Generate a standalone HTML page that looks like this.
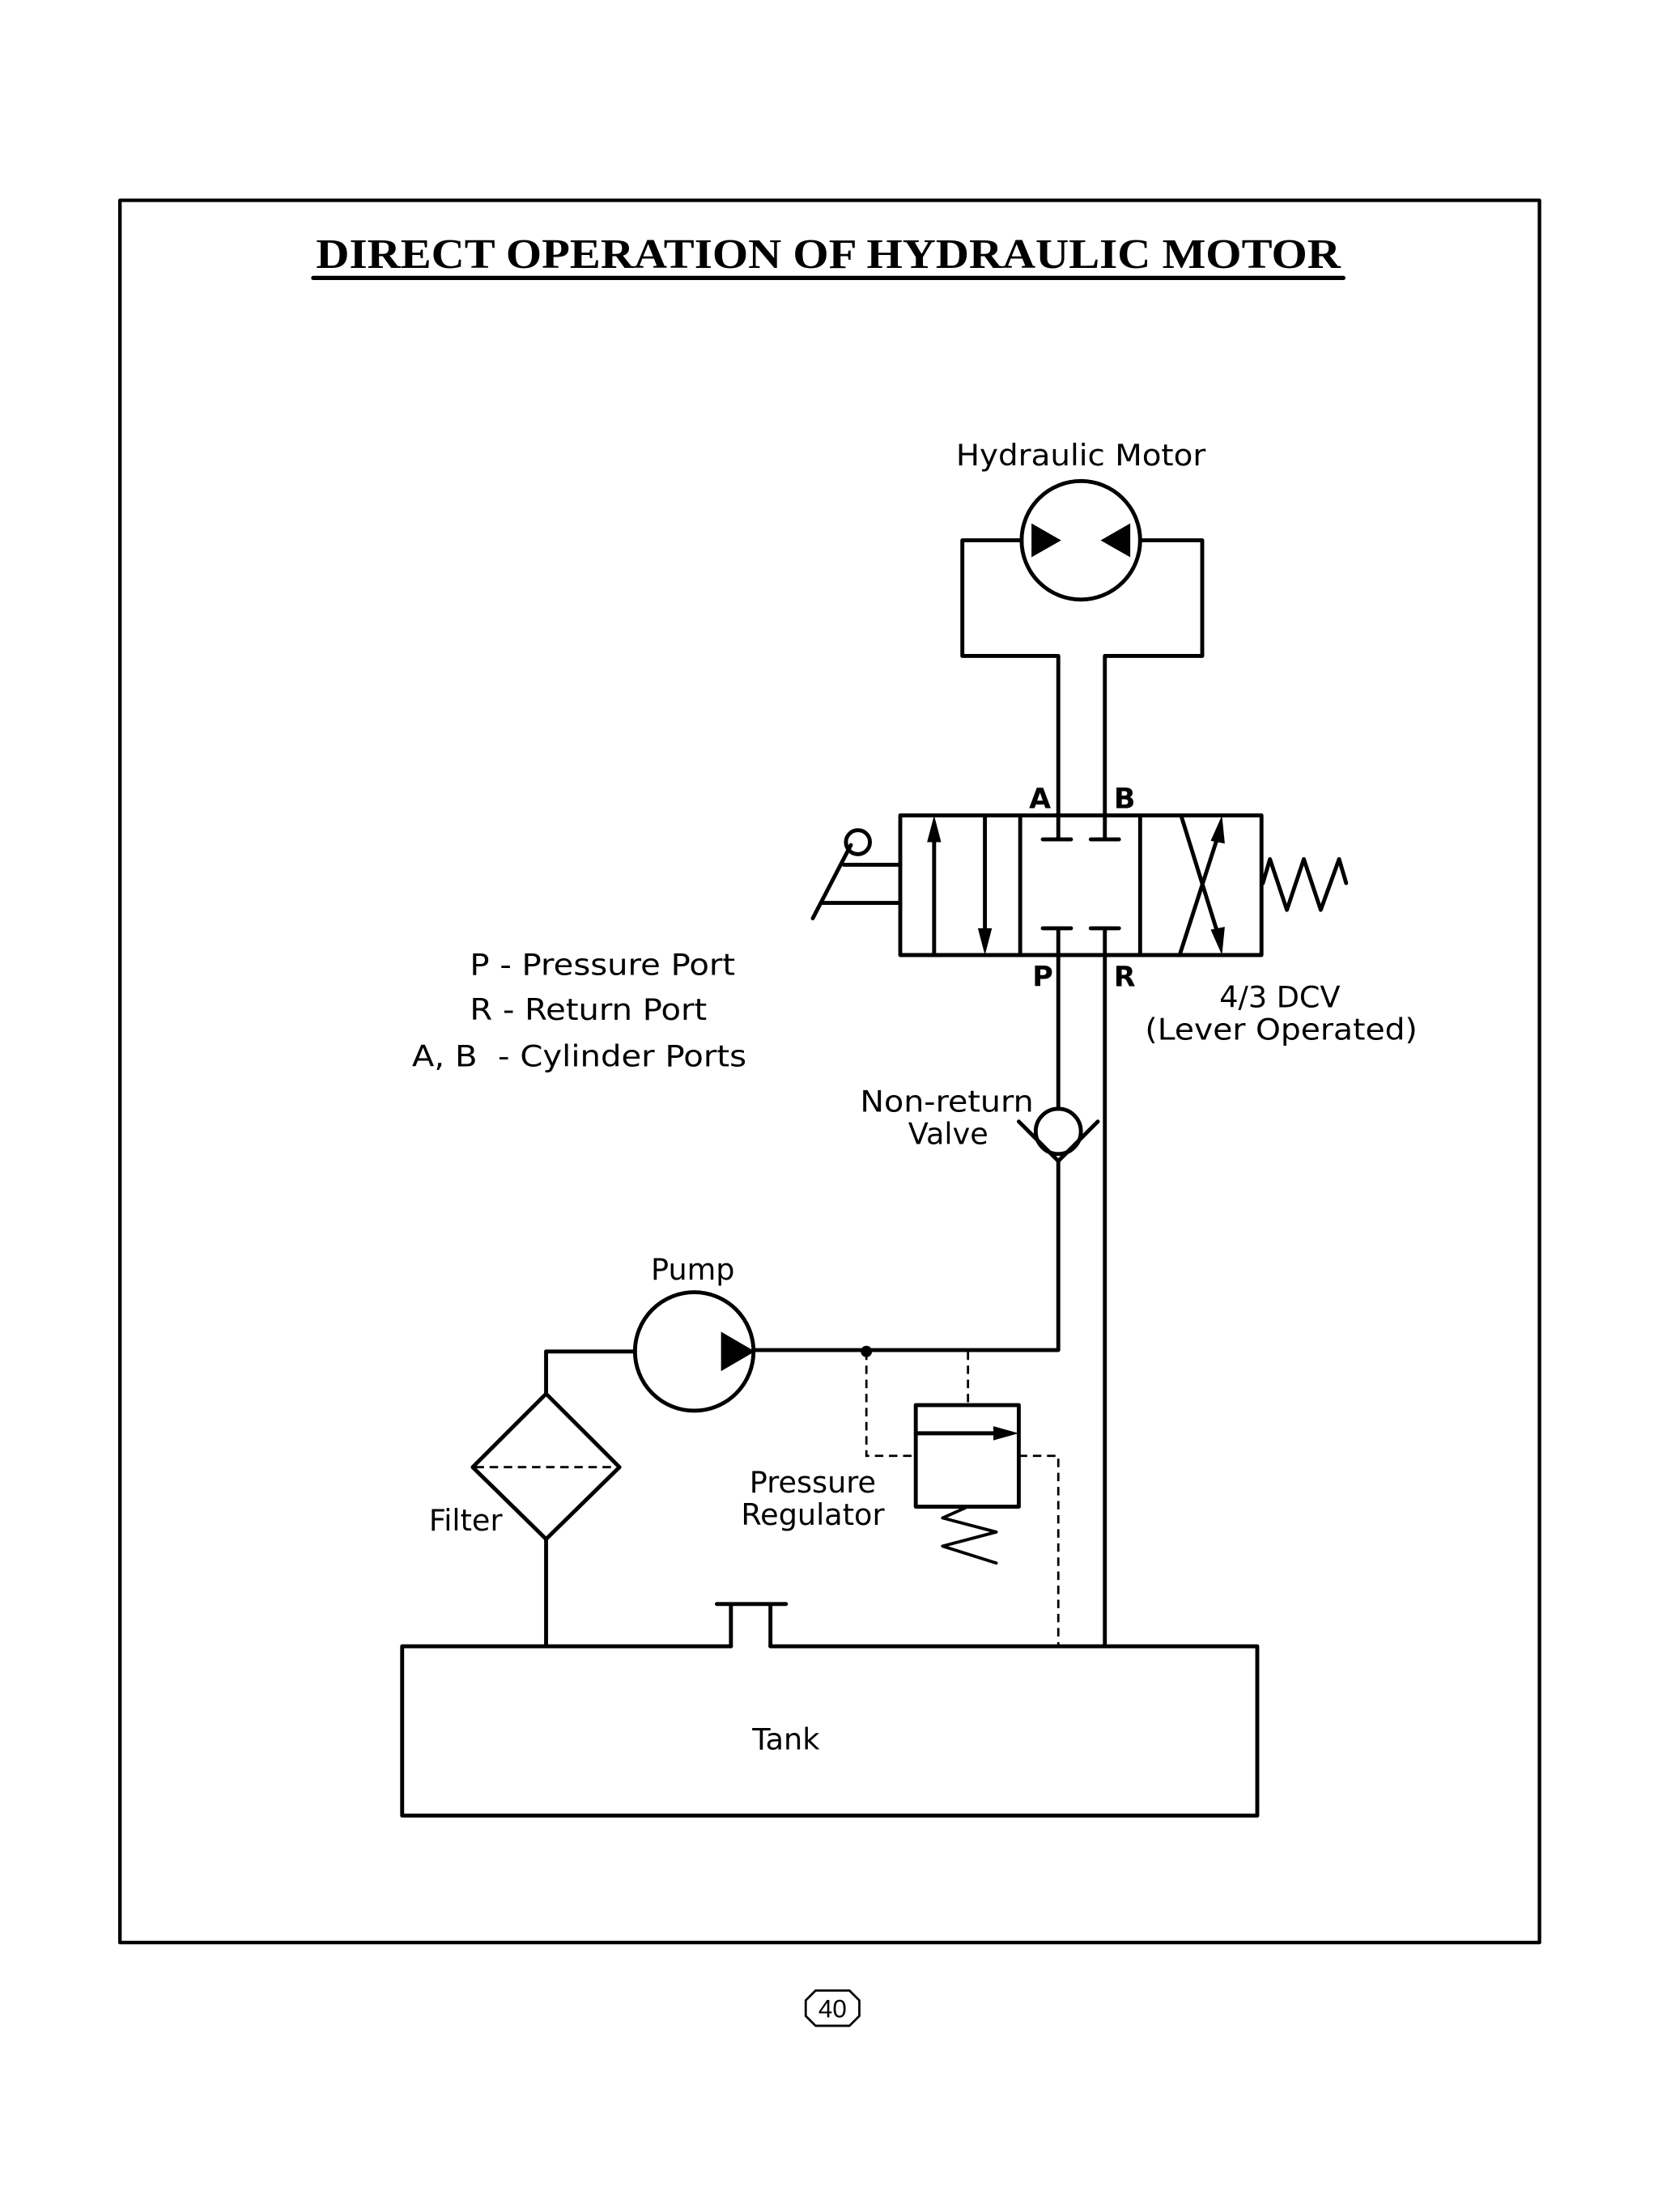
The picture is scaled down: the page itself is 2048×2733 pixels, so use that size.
<!DOCTYPE html>
<html><head><meta charset="utf-8"><style>
html,body{margin:0;padding:0;background:#fff;}
svg{display:block;}
text{font-family:"DejaVu Sans","Liberation Sans",sans-serif;fill:#000;}
</style></head><body>
<svg width="2048" height="2733" viewBox="0 0 1175 1568" preserveAspectRatio="none" xmlns="http://www.w3.org/2000/svg">
<g fill="none" stroke="#000" stroke-width="2.8" stroke-linecap="round" stroke-linejoin="round">
<rect x="85" y="142" width="1006" height="1235" stroke-width="2.5"/>
<line x1="222" y1="197" x2="952" y2="197" stroke-width="3"/>
<!-- motor -->
<circle cx="766" cy="383" r="42"/>
<polyline points="750,577 750,465 682,465 682,383 724,383"/>
<polyline points="783,577 783,465 852,465 852,383 808,383"/>
<!-- valve -->
<rect x="638" y="578" width="256" height="99"/>
<line x1="723" y1="578" x2="723" y2="677"/>
<line x1="808" y1="578" x2="808" y2="677"/>
<line x1="750" y1="578" x2="750" y2="595"/><line x1="739" y1="595" x2="759" y2="595"/>
<line x1="783" y1="578" x2="783" y2="595"/><line x1="773" y1="595" x2="793" y2="595"/>
<line x1="750" y1="677" x2="750" y2="658"/><line x1="739" y1="658" x2="759" y2="658"/>
<line x1="783" y1="677" x2="783" y2="658"/><line x1="773" y1="658" x2="793" y2="658"/>
<line x1="662" y1="677" x2="662" y2="590"/>
<line x1="698" y1="578" x2="698" y2="665"/>
<line x1="836" y1="677" x2="864" y2="590"/>
<line x1="837" y1="578" x2="864" y2="665"/>
<polyline points="895,626 900,609 912,645 924,609 936,645 949,609 954,626"/>
<line x1="598" y1="613" x2="638" y2="613"/>
<line x1="583" y1="640" x2="638" y2="640"/>
<line x1="576" y1="651" x2="603" y2="599"/>
<circle cx="608" cy="597" r="8.5"/>
<!-- pressure line -->
<line x1="750" y1="677" x2="750" y2="786"/>
<circle cx="750" cy="802" r="16"/>
<polyline points="722,795 750,823 778,795"/>
<polyline points="750,823 750,957 534,957"/>
<line x1="783" y1="677" x2="783" y2="1167"/>
<!-- pump -->
<circle cx="492" cy="958" r="42"/>
<polyline points="450,958 387,958 387,988"/>
<polygon points="387,988 439,1040 387,1091 335,1040"/>
<line x1="387" y1="1091" x2="387" y2="1167"/>
<!-- regulator -->
<rect x="649" y="996" width="73" height="72"/>
<line x1="649" y1="1016" x2="712" y2="1016"/>
<polyline points="686,1068 668,1076 706,1086 668,1096 706,1108" stroke-width="2.2"/>
<!-- tank -->
<polyline points="518,1167 285,1167 285,1287 891,1287 891,1167 546,1167"/>
<polyline points="518,1167 518,1137 508,1137 557,1137 546,1137 546,1167"/>
<!-- page num -->
<polygon points="578,1411 602,1411 609,1418 609,1429 602,1436 578,1436 571,1429 571,1418" stroke-width="1.6"/>
</g>
<g fill="none" stroke="#000" stroke-width="1.6" stroke-dasharray="6,4">
<line x1="337" y1="1040" x2="437" y2="1040"/>
<polyline points="614,958 614,1032 649,1032"/>
<line x1="686" y1="958" x2="686" y2="996"/>
<polyline points="722,1032 750,1032 750,1167"/>
</g>
<g fill="#000" stroke="none">
<polygon points="731,371 731,395 752,383"/>
<polygon points="801,371 801,395 780,383"/>
<polygon points="662,578 657,597 667,597"/>
<polygon points="698,677 693,658 703,658"/>
<polygon points="866,578 858,596 868,598"/>
<polygon points="866,677 858,659 868,657"/>
<polygon points="511,944 511,972 535,958"/>
<polygon points="722,1016 704,1011 704,1021"/>
<circle cx="614" cy="958" r="4"/>
</g>
<text x="587" y="190" text-anchor="middle" font-weight="bold" font-size="30" textLength="726" lengthAdjust="spacingAndGlyphs" style="font-family:'Liberation Serif',serif">DIRECT OPERATION OF HYDRAULIC MOTOR</text>
<g font-size="21">
<text x="766" y="330" text-anchor="middle" textLength="177" lengthAdjust="spacingAndGlyphs">Hydraulic Motor</text>
<text x="737" y="573" text-anchor="middle" font-weight="bold" font-size="20">A</text>
<text x="797" y="573" text-anchor="middle" font-weight="bold" font-size="20">B</text>
<text x="739" y="699" text-anchor="middle" font-weight="bold" font-size="20">P</text>
<text x="797" y="699" text-anchor="middle" font-weight="bold" font-size="20">R</text>
<text x="907" y="714" text-anchor="middle">4/3 DCV</text>
<text x="908" y="737" text-anchor="middle" textLength="193" lengthAdjust="spacingAndGlyphs">(Lever Operated)</text>
<text x="333" y="691" textLength="188" lengthAdjust="spacingAndGlyphs">P - Pressure Port</text>
<text x="333" y="723" textLength="168" lengthAdjust="spacingAndGlyphs">R - Return Port</text>
<text x="292" y="756" textLength="237" lengthAdjust="spacingAndGlyphs" xml:space="preserve">A, B  - Cylinder Ports</text>
<text x="671" y="788" text-anchor="middle" textLength="123" lengthAdjust="spacingAndGlyphs">Non-return</text>
<text x="672" y="811" text-anchor="middle">Valve</text>
<text x="491" y="907" text-anchor="middle">Pump</text>
<text x="330" y="1085" text-anchor="middle">Filter</text>
<text x="576" y="1058" text-anchor="middle">Pressure</text>
<text x="576" y="1081" text-anchor="middle">Regulator</text>
<text x="557" y="1240" text-anchor="middle">Tank</text>
<text x="590" y="1430" text-anchor="middle" font-size="18" style="font-family:'Liberation Sans',sans-serif">40</text>
</g>
</svg>
</body></html>
